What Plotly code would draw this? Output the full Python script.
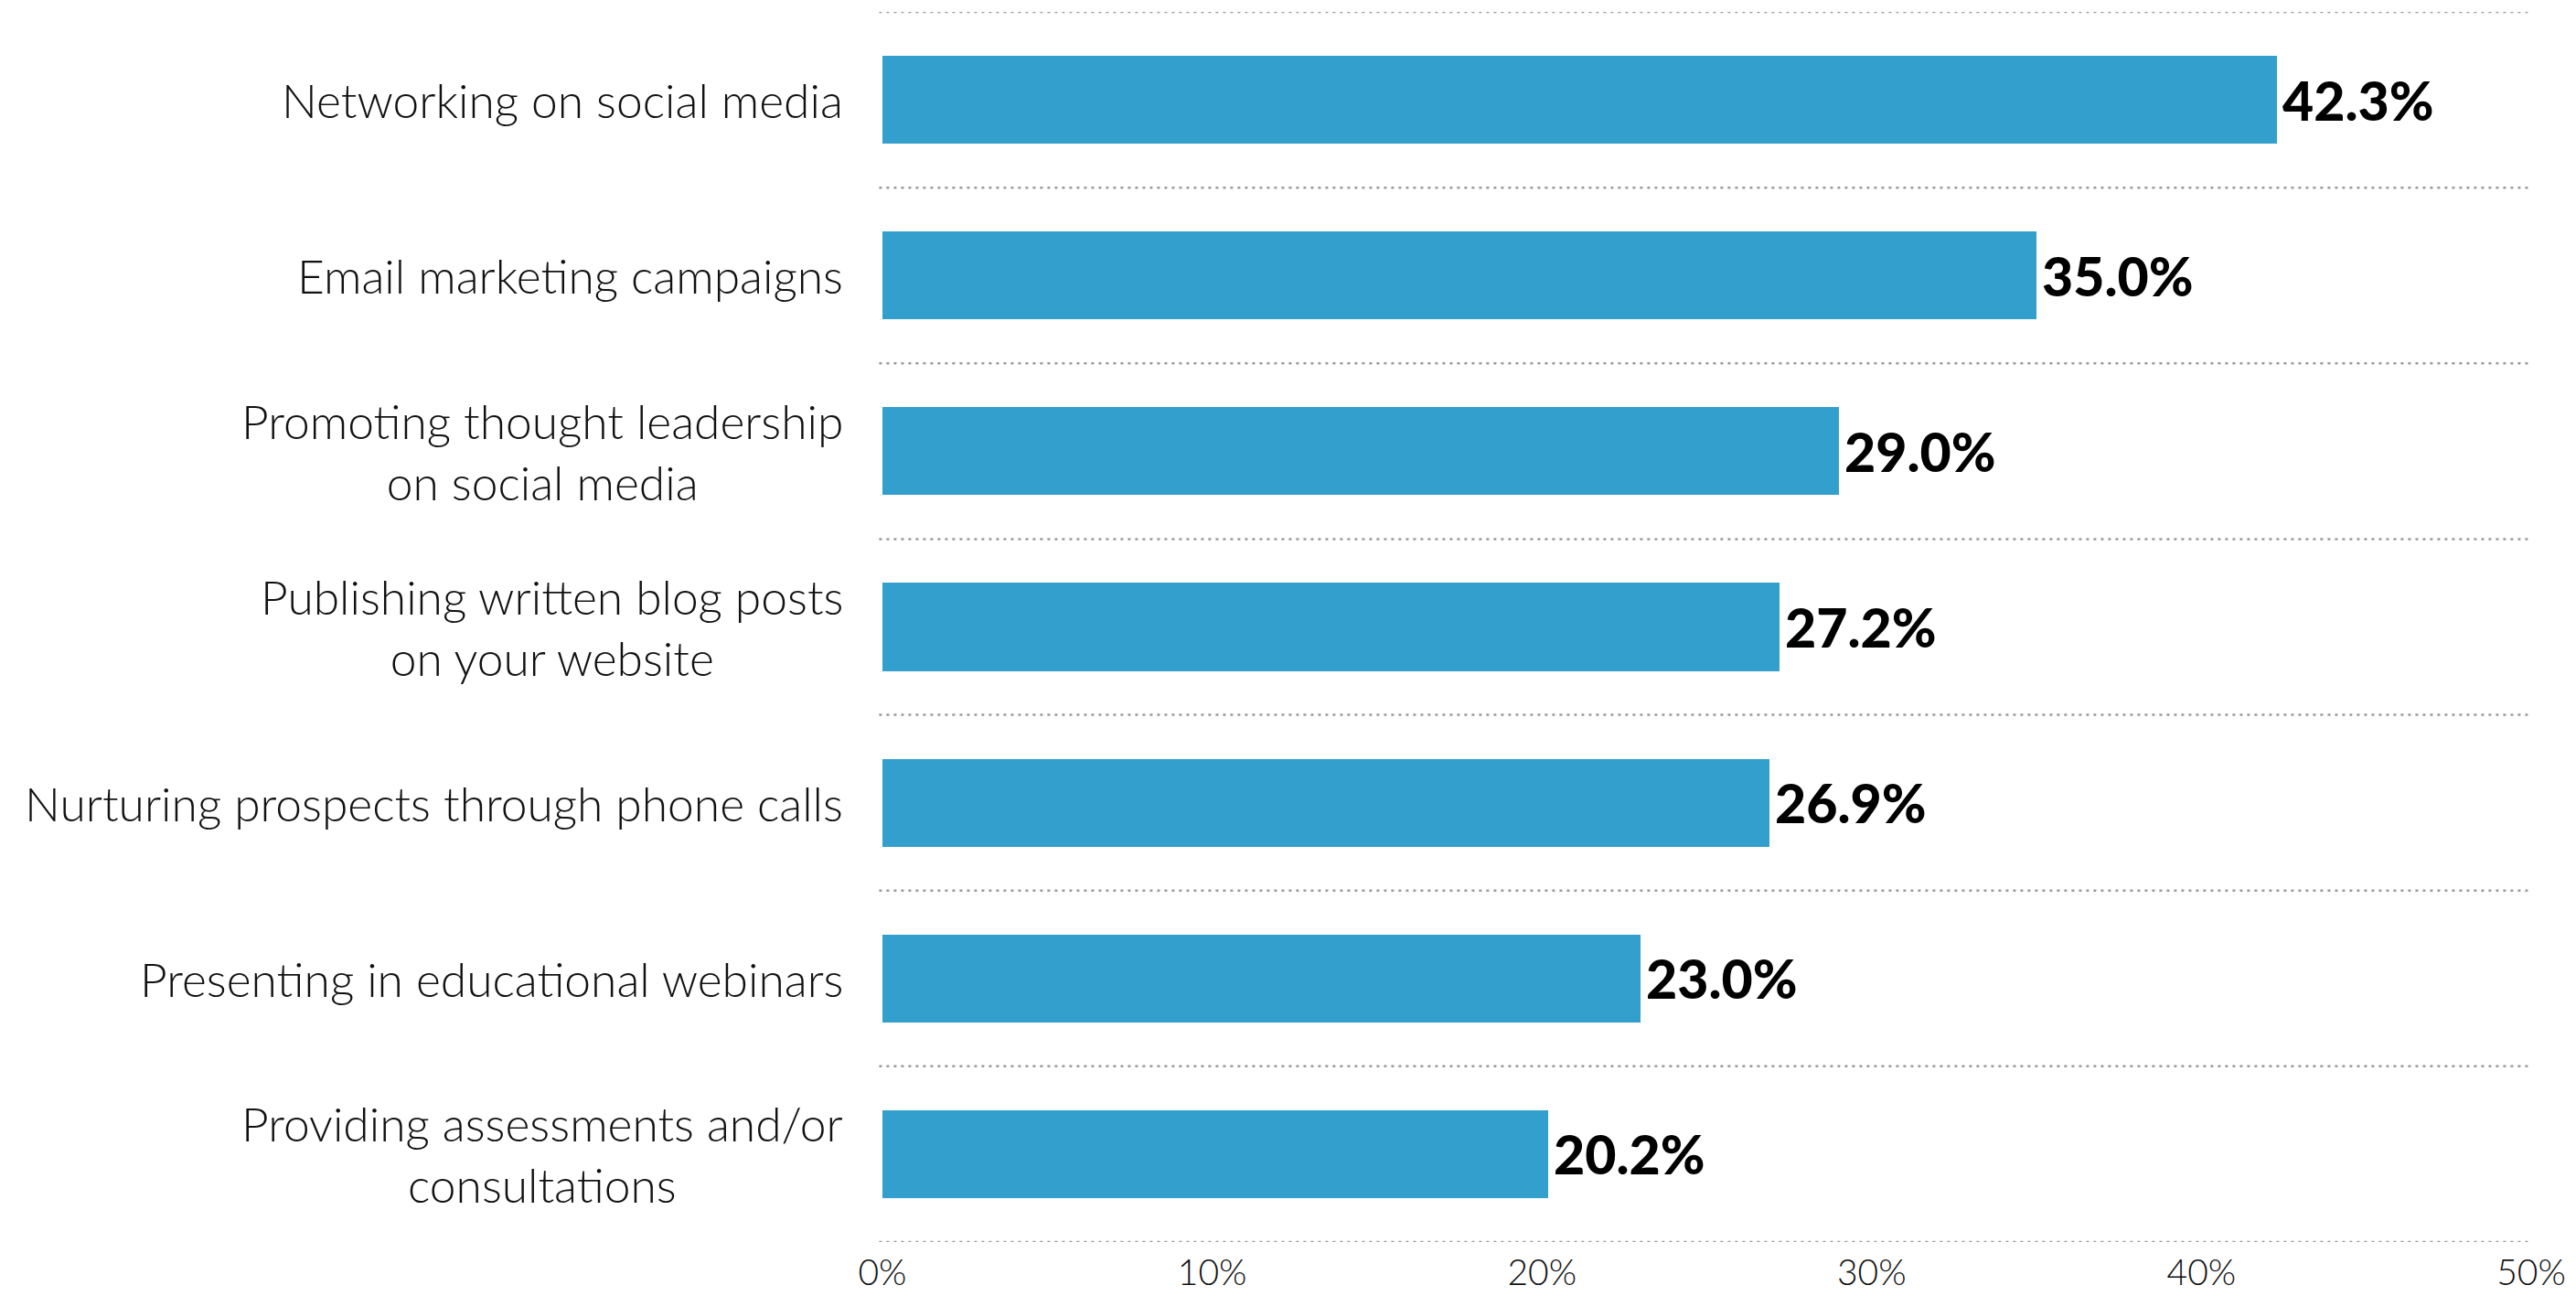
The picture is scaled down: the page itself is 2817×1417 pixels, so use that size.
import plotly.graph_objects as go

# Survey results: share of respondents using each marketing tactic
categories = [
    "Networking on social media",
    "Email marketing campaigns",
    "Promoting thought leadership<br>on social media",
    "Publishing written blog posts<br>on your website",
    "Nurturing prospects through phone calls",
    "Presenting in educational webinars",
    "Providing assessments and/or<br>consultations",
]
values = [42.3, 35.0, 29.0, 27.2, 26.9, 23.0, 20.2]

x_ticks = [0, 10, 20, 30, 40, 50]
x_tick_labels = ["0%", "10%", "20%", "30%", "40%", "50%"]

BAR_COLOR = "#339fcc"
GRID_COLOR = "#9a9a9a"
LABEL_FONT = "Lato, 'Open Sans', sans-serif"

idx = list(range(len(categories)))

fig = go.Figure(
    go.Bar(
        x=values,
        y=idx,
        orientation="h",
        width=0.5,
        marker=dict(color=BAR_COLOR, line=dict(width=0)),
        hoverinfo="skip",
    )
)

# Category labels: block right-aligned next to the axis, lines centred
annotations = []
for i, cat in enumerate(categories):
    annotations.append(
        dict(
            x=0, xref="paper", y=i, yref="y",
            text=cat, showarrow=False,
            xanchor="right", yanchor="middle", align="center",
            xshift=-41,
            font=dict(family=LABEL_FONT, size=51.5, color="#111111", weight=300),
        )
    )

# Value labels at the end of each bar
for i, v in enumerate(values):
    annotations.append(
        dict(
            x=v, xref="x", y=i, yref="y",
            text=f"{v:.1f}%", showarrow=False,
            xanchor="left", yanchor="middle",
            xshift=4,
            font=dict(family=LABEL_FONT, size=59, color="#000000", weight=900),
        )
    )

# Dotted separators between categories
shapes = []
for k in range(len(categories) + 1):
    yb = k - 0.5
    shapes.append(
        dict(
            type="line", xref="paper", x0=-0.002, x1=0.999,
            yref="y", y0=yb, y1=yb,
            line=dict(color=GRID_COLOR, width=2.5, dash="3px,5px"),
            layer="below",
        )
    )

fig.update_layout(
    width=2817,
    height=1417,
    margin=dict(l=965, r=49, t=13, b=59),
    paper_bgcolor="white",
    plot_bgcolor="white",
    showlegend=False,
    bargap=0,
    annotations=annotations,
    shapes=shapes,
    xaxis=dict(
        range=[0, 50],
        tickvals=x_ticks,
        ticktext=x_tick_labels,
        showgrid=False,
        zeroline=False,
        showline=False,
        ticks="",
        automargin=False,
        ticklabelstandoff=7,
        tickfont=dict(family=LABEL_FONT, size=39, color="#111111", weight=300),
        fixedrange=True,
    ),
    yaxis=dict(
        range=[len(categories) - 0.5, -0.5],
        showticklabels=False,
        showgrid=False,
        zeroline=False,
        showline=False,
        ticks="",
        automargin=False,
        fixedrange=True,
    ),
)

fig.write_html("out.html", config={"displayModeBar": False})
